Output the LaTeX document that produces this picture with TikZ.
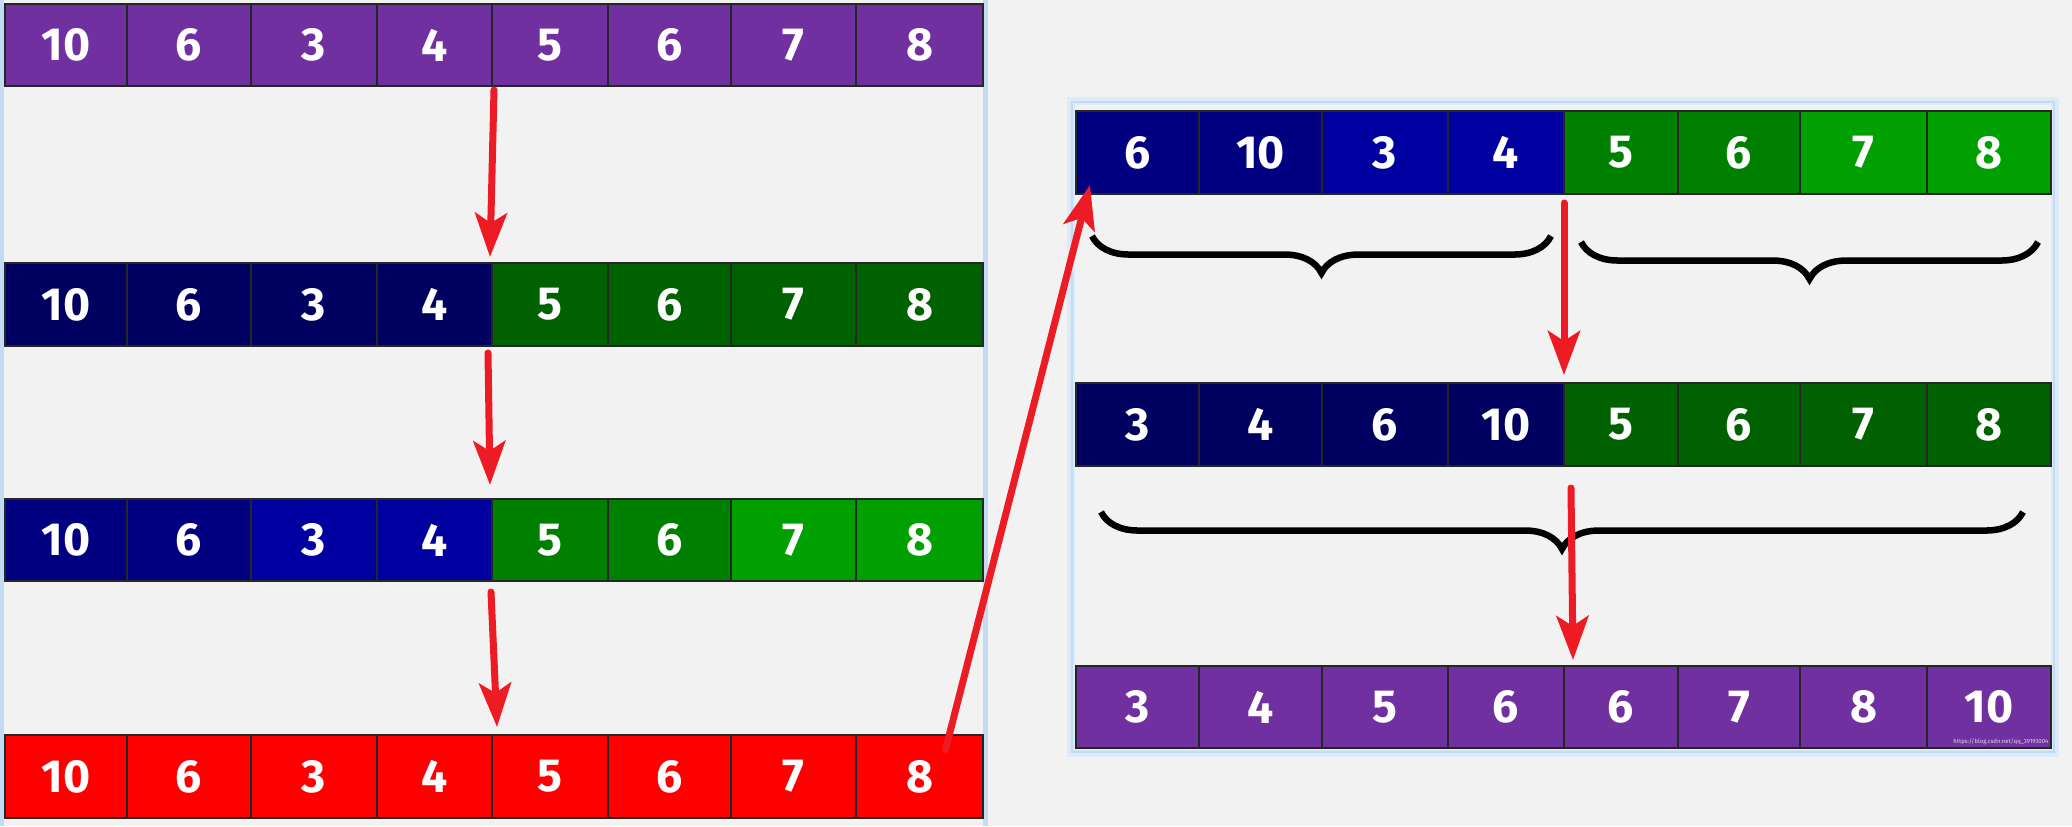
\documentclass[tikz,border=0pt]{standalone}
\usepackage{fontspec}
\setmainfont{Fira Sans}
\usetikzlibrary{arrows.meta,calc,decorations.pathreplacing}

\definecolor{panelbg}{HTML}{F2F2F2}
\definecolor{panelblue}{HTML}{C2DAF4}
\definecolor{panelglow}{HTML}{DDEAF8}
\definecolor{mixpurple}{HTML}{7030A0}
\definecolor{navyD}{HTML}{000060}
\definecolor{navyM}{HTML}{000080}
\definecolor{blueM}{HTML}{0000A0}
\definecolor{greenD}{HTML}{006100}
\definecolor{greenM}{HTML}{008000}
\definecolor{greenL}{HTML}{00A000}
\definecolor{cellred}{HTML}{FF0000}
\definecolor{arrowred}{HTML}{ED1C24}

\tikzset{
  cell/.style={draw=black!85, line width=0.6pt, inner sep=0pt, outer sep=0pt,
    text=white, font=\fontsize{13.2pt}{15pt}\selectfont\bfseries},
  redarrow/.style={draw=arrowred, line width=0.07cm, line cap=round,
    -{Stealth[length=0.44cm, width=0.32cm, inset=0.1cm]}},
  bracket/.style={draw=black, line width=0.065cm, decorate,
    decoration={brace, mirror, amplitude=0.37cm}}
}

% one row of cells: prefix, x borders, y top, y bottom, value/colour list
\newcommand{\numrow}[5]{%
  \foreach \v/\c [count=\i] in {#5} {
    \pgfmathsetmacro{\xa}{#2[\i-1]}
    \pgfmathsetmacro{\xb}{#2[\i]}
    \pgfmathsetmacro{\w}{(\xb-\xa)*0.01}
    \pgfmathsetmacro{\h}{(#4-#3)*0.01}
    \node[cell, fill=\c, minimum width=\w cm, minimum height=\h cm]
      (#1\i) at ({(\xa+\xb)/2},{(#3+#4)/2}) {\v};
  }%
}

\begin{document}
\begin{tikzpicture}[x=0.01cm, y=-0.01cm, >=Stealth]
    \fill[panelbg] (0,0) rectangle (2072,826);
    \useasboundingbox (0,0) rectangle (2072,826);

    \def\LX{{5,127,251,377,492,608,731,856,983}}      % left column borders
    \def\RX{{1076,1199,1322,1448,1564,1678,1800,1927,2051}} % right column borders

    % panel frames
    \fill[panelblue] (0,0) rectangle (4,826);
    \fill[panelblue] (983,0) rectangle (988,826);
    \draw[panelglow, line width=0.08cm] (1071,101) rectangle (2055,753);
    \draw[panelblue, line width=0.025cm] (1072,102) rectangle (2054,752);

    % left column
    \numrow{L1c}{\LX}{4}{86}{10/mixpurple,6/mixpurple,3/mixpurple,4/mixpurple,5/mixpurple,6/mixpurple,7/mixpurple,8/mixpurple}
    \numrow{L2c}{\LX}{263}{346}{10/navyD,6/navyD,3/navyD,4/navyD,5/greenD,6/greenD,7/greenD,8/greenD}
    \numrow{L3c}{\LX}{499}{581}{10/navyM,6/navyM,3/blueM,4/blueM,5/greenM,6/greenM,7/greenL,8/greenL}
    \numrow{L4c}{\LX}{735}{818}{10/cellred,6/cellred,3/cellred,4/cellred,5/cellred,6/cellred,7/cellred,8/cellred}

    % right column
    \numrow{R1c}{\RX}{111}{194}{6/navyM,10/navyM,3/blueM,4/blueM,5/greenM,6/greenM,7/greenL,8/greenL}
    \numrow{R2c}{\RX}{383}{466}{3/navyD,4/navyD,6/navyD,10/navyD,5/greenD,6/greenD,7/greenD,8/greenD}
    \numrow{R3c}{\RX}{666}{748}{3/mixpurple,4/mixpurple,5/mixpurple,6/mixpurple,6/mixpurple,7/mixpurple,8/mixpurple,10/mixpurple}

    \node[text=white!80!mixpurple, font=\fontsize{1.7pt}{2pt}\selectfont, anchor=south east, inner sep=0pt]
      (mark) at ($(R3c8.south east)+(-2,-3)$) {https://blog.csdn.net/qq\_39193004};

    % braces
    \draw[bracket] ($(R1c1.south west)+(16,42)$) -- ($(R1c4.south east)+(-13,42)$);
    \draw[bracket] ($(R1c5.south west)+(17,48)$) -- ($(R1c8.south east)+(-13,48)$);
    \draw[bracket] ($(R2c1.south west)+(25,46)$) -- ($(R2c8.south east)+(-28,46)$);

    % arrows
    \draw[redarrow] ($(L1c5.south west)+(2,4)$) -- ($(L2c5.north west)+(-2,-6)$);
    \draw[redarrow] ($(L2c5.south west)+(-4,7)$) -- ($(L3c5.north west)+(-2,-14)$);
    \draw[redarrow] ($(L3c5.south west)+(-1,11)$) -- ($(L4c5.north west)+(5,-8)$);
    \draw[redarrow] ($(L4c8.center)+(26,-27)$) -- ($(R1c1.south west)+(14,-9)$);
    \draw[redarrow] ($(R1c5.south west)+(0,9)$) -- ($(R2c5.north west)+(0,-8)$);
    \draw[redarrow] ($(R2c5.south west)+(7,22)$) -- ($(R3c5.north west)+(9,-6)$);
\end{tikzpicture}
\end{document}
